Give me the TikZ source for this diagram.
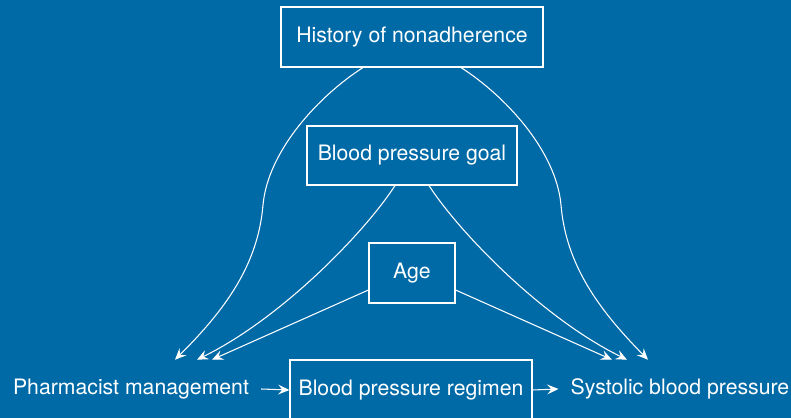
\documentclass[tikz,border=0pt]{standalone}
\usepackage{fontspec}
\setmainfont{TeX Gyre Heros}
\usepackage{xcolor}
\usetikzlibrary{positioning, arrows.meta}
\definecolor{PanelBlue}{HTML}{006AA7}

\begin{document}
\begin{tikzpicture}[
  x=0.025cm, y=-0.025cm,
  >={Stealth[length=8pt, width=7pt, inset=3pt]},
  causarr/.style={->, line width=0.75pt, color=white},
  varbox/.style={draw=white, line width=0.8pt, text=white, inner sep=2pt,
                 font=\fontsize{15.1}{18}\selectfont, minimum height=1.5cm},
  varlbl/.style={text=white, inner xsep=0.3cm, inner ysep=0pt,
                 font=\fontsize{15.1}{18}\selectfont, minimum height=1.45cm},
]

% ===== background panel =====
  \fill[PanelBlue] (0,0) rectangle (791,418);
  \useasboundingbox (0,0) rectangle (791,418);

% ===== variables =====
  \node[varbox, minimum width=6.55cm] (hist) at (412,37) {History of nonadherence};
  \node[varbox, minimum width=5.25cm, minimum height=1.475cm] (goal) at (412,155.5) {Blood pressure goal};
  \node[varbox, minimum width=2.15cm] (age) at (412,273) {Age};
  \node[varbox, minimum width=6.05cm] (regim) at (411,390) {Blood pressure regimen};
  \node[varlbl] (pharm) at (131,389) {Pharmacist management};
  \node[varlbl] (sbp) at (680,389) {Systolic blood pressure};

% ===== main path =====
  \draw[causarr] (pharm.east) -- (regim.west);
  \draw[causarr] (regim.east) -- (sbp.west);

% ===== confounders =====
  \draw[causarr] ([shift={(-49,0)}]hist.south) .. controls (320,95) and (268,150) .. (263,205)
    .. controls (258,265) and (225,310) .. ([shift={(44,0)}]pharm.north);
  \draw[causarr] ([shift={(49,0)}]hist.south) .. controls (504,95) and (556,150) .. (561,205)
    .. controls (566,265) and (599,310) .. ([shift={(-32,0)}]sbp.north);
  \draw[causarr] ([shift={(-17,0)}]goal.south) .. controls (365,232) and (282,318) .. ([shift={(66,0)}]pharm.north);
  \draw[causarr] ([shift={(17,0)}]goal.south) .. controls (459,232) and (542,318) .. ([shift={(-53,0)}]sbp.north);
  \draw[causarr] ([shift={(0,17)}]age.west) -- ([shift={(81,0)}]pharm.north);
  \draw[causarr] ([shift={(0,17)}]age.east) -- ([shift={(-68,0)}]sbp.north);

\end{tikzpicture}
\end{document}
